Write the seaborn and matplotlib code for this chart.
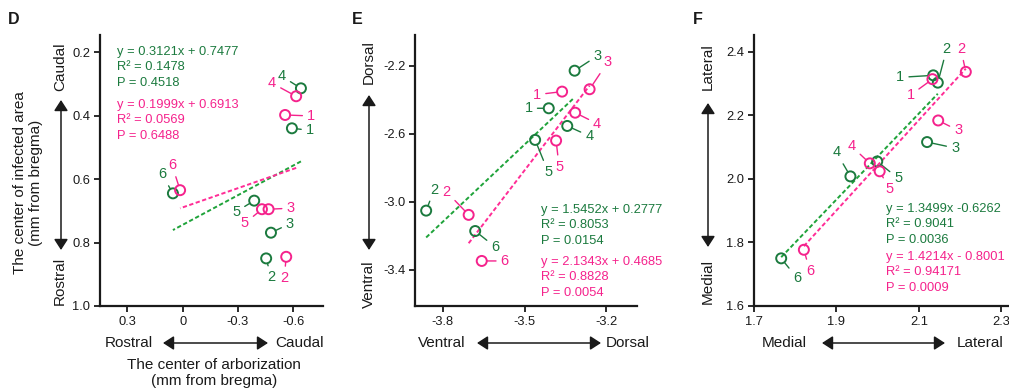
import numpy as np
import matplotlib
matplotlib.use('Agg')
import matplotlib.pyplot as plt
import seaborn as sns
from matplotlib.patches import FancyArrowPatch

# ---- data (point ids 1-6, green / magenta series) ----
ids = ['1', '2', '3', '4', '5', '6']

# D: rostro-caudal, arborization (x) vs infected area (y)
d_green_x = [-0.594, -0.454, -0.480, -0.643, -0.389, 0.053]
d_green_y = [0.440, 0.850, 0.769, 0.314, 0.668, 0.645]
d_pink_x = [-0.557, -0.563, -0.467, -0.617, -0.431, 0.014]
d_pink_y = [0.398, 0.845, 0.695, 0.339, 0.695, 0.635]
d_green_eq = ['y = 0.3121x + 0.7477', 'R² = 0.1478', 'P = 0.4518']
d_pink_eq = ['y = 0.1999x + 0.6913', 'R² = 0.0569', 'P = 0.6488']

# E: dorso-ventral
e_green_x = [-3.411, -3.861, -3.316, -3.343, -3.461, -3.681]
e_green_y = [-2.449, -3.051, -2.228, -2.553, -2.635, -3.171]
e_pink_x = [-3.362, -3.705, -3.261, -3.314, -3.384, -3.657]
e_pink_y = [-2.351, -3.076, -2.337, -2.475, -2.639, -3.347]
e_green_eq = ['y = 1.5452x + 0.2777', 'R² = 0.8053', 'P = 0.0154']
e_pink_eq = ['y = 2.1343x + 0.4685', 'R² = 0.8828', 'P = 0.0054']

# F: medio-lateral
f_green_x = [2.135, 2.146, 2.120, 1.934, 1.999, 1.766]
f_green_y = [2.326, 2.303, 2.116, 2.008, 2.055, 1.750]
f_pink_x = [2.133, 2.214, 2.147, 1.981, 2.005, 1.821]
f_pink_y = [2.314, 2.337, 2.184, 2.049, 2.024, 1.777]
f_green_eq = ['y = 1.3499x -0.6262', 'R² = 0.9041', 'P = 0.0036']
f_pink_eq = ['y = 1.4214x - 0.8001', 'R² = 0.94171', 'P = 0.0009']

# tick labels
d_xticks, d_xlabels = [0.3, 0, -0.3, -0.6], ['0.3', '0', '-0.3', '-0.6']
d_yticks, d_ylabels = [0.2, 0.4, 0.6, 0.8, 1.0], ['0.2', '0.4', '0.6', '0.8', '1.0']
e_xticks, e_xlabels = [-3.8, -3.5, -3.2], ['-3.8', '-3.5', '-3.2']
e_yticks, e_ylabels = [-2.2, -2.6, -3.0, -3.4], ['-2.2', '-2.6', '-3.0', '-3.4']
f_xticks, f_xlabels = [1.7, 1.9, 2.1, 2.3], ['1.7', '1.9', '2.1', '2.3']
f_yticks, f_ylabels = [1.6, 1.8, 2.0, 2.2, 2.4], ['1.6', '1.8', '2.0', '2.2', '2.4']

# label offsets (pixels, image direction: +x right, +y down)
d_green_off = [(18, 2), (5, 19), (19, -9), (-19, -12), (-18, 11), (-11, -19)]
d_pink_off = [(26, 1), (-2, 21), (22, -1), (-24, -13), (-17, 14), (-8, -25)]
e_green_off = [(-20, 0), (8, -21), (23, -15), (22, 10), (13, 32), (20, 16)]
e_pink_off = [(-25, 3), (-22, -23), (18, -27), (22, 11), (3, 26), (23, 0)]
f_green_off = [(-33, 2), (9, -34), (28, 6), (-14, -24), (21, 17), (16, 20)]
f_pink_off = [(-22, 16), (-5, -23), (20, 10), (-18, -17), (10, 18), (6, 21)]

GREEN, GREEN_LINE = '#1b7a3e', '#1fa33a'
PINK, PINK_LINE = '#f5228c', '#ff2d96'
INK = '#1a1a1a'

sns.set_style('ticks')
plt.rcParams['font.family'] = ['Liberation Sans', 'DejaVu Sans']
plt.rcParams['axes.unicode_minus'] = False

W, H = 1009, 392
fig = plt.figure(figsize=(W / 100, H / 100), dpi=100)


def fx(px):
    return px / W


def fy(py):
    return 1 - py / H


def add_ax(left, right, top, bottom):
    return fig.add_axes([fx(left), fy(bottom), (right - left) / W, (bottom - top) / H])


def draw_series(ax, x, y, offs, c, cline):
    x = np.array(x)
    y = np.array(y)
    sns.regplot(x=x, y=y, ax=ax, scatter=False, ci=None, truncate=True,
                line_kws=dict(color=cline, lw=1.4, ls=(0, (2.2, 1.3))))
    sns.scatterplot(x=x, y=y, ax=ax, color=c, facecolor='none', edgecolor=c,
                    s=52, linewidth=1.4, zorder=4)
    for lab, xi, yi, (dx, dy) in zip(ids, x, y, offs):
        ax.annotate(lab, (xi, yi), xytext=(dx, -dy), textcoords='offset pixels',
                    ha='center', va='center', fontsize=10.5, color=c,
                    arrowprops=dict(arrowstyle='-', color=c, lw=1.0,
                                    shrinkA=1.0, shrinkB=3.7))


def style_ax(ax, xlim, ylim, xt, xl, yt, yl):
    ax.set_xlim(*xlim)
    ax.set_ylim(*ylim)
    ax.set_xticks(xt, xl)
    ax.set_yticks(yt, yl)
    ax.set_xlabel('')
    ax.set_ylabel('')
    sns.despine(ax=ax)
    for s in ['left', 'bottom']:
        ax.spines[s].set_linewidth(1.6)
        ax.spines[s].set_color(INK)
    ax.tick_params(width=1.3, length=4, labelsize=9.3, pad=3,
                   color=INK, labelcolor=INK)


def eq_block(x, y, lines, c):
    for i, t in enumerate(lines):
        fig.text(fx(x), fy(y + i * 15.3), t, color=c, fontsize=9.3,
                 ha='left', va='center')


def double_arrow(x0, y0, x1, y1):
    fig.add_artist(FancyArrowPatch((fx(x0), fy(y0)), (fx(x1), fy(y1)),
                                   transform=fig.transFigure,
                                   arrowstyle='<|-|>,head_length=0.65,head_width=0.42',
                                   mutation_scale=10, lw=1.1, color=INK,
                                   shrinkA=0, shrinkB=0))


def side_text(x, y, t, rot=0):
    fig.text(fx(x), fy(y), t, rotation=rot, ha='center', va='center',
             fontsize=11, color=INK)


# ---- D ----
axd = add_ax(100, 323, 35, 306)
draw_series(axd, d_green_x, d_green_y, d_green_off, GREEN, GREEN_LINE)
draw_series(axd, d_pink_x, d_pink_y, d_pink_off, PINK, PINK_LINE)
style_ax(axd, (0.4495, -0.763), (1.0, 0.146), d_xticks, d_xlabels, d_yticks, d_ylabels)
eq_block(117, 52, d_green_eq, GREEN)
eq_block(117, 105, d_pink_eq, PINK)

# ---- E ----
axe = add_ax(415, 637, 35, 306)
draw_series(axe, e_green_x, e_green_y, e_green_off, GREEN, GREEN_LINE)
draw_series(axe, e_pink_x, e_pink_y, e_pink_off, PINK, PINK_LINE)
style_ax(axe, (-3.902, -3.087), (-3.612, -2.018), e_xticks, e_xlabels, e_yticks, e_ylabels)
eq_block(541, 210, e_green_eq, GREEN)
eq_block(541, 262, e_pink_eq, PINK)

# ---- F ----
axf = add_ax(754, 1009.5, 35, 306)
draw_series(axf, f_green_x, f_green_y, f_green_off, GREEN, GREEN_LINE)
draw_series(axf, f_pink_x, f_pink_y, f_pink_off, PINK, PINK_LINE)
style_ax(axf, (1.7, 2.32), (1.6, 2.453), f_xticks, f_xlabels, f_yticks, f_ylabels)
eq_block(886, 209, f_green_eq, GREEN)
eq_block(886, 257, f_pink_eq, PINK)

# panel letters
for px, letter in [(8, 'D'), (352, 'E'), (693, 'F')]:
    fig.text(fx(px), fy(20), letter, fontsize=11.5, fontweight='bold',
             ha='left', va='center', color=INK)

# direction arrows and labels
double_arrow(61, 100, 61, 250)
side_text(60, 67, 'Caudal', 90)
side_text(60, 281, 'Rostral', 90)
double_arrow(163, 343, 268, 343)
side_text(129, 343, 'Rostral')
side_text(299, 343, 'Caudal')
fig.text(fx(28), fy(183), 'The center of infected area\n(mm from bregma)',
         rotation=90, ha='center', va='center', fontsize=11, color=INK,
         multialignment='center', linespacing=1.25)
fig.text(fx(214), fy(373), 'The center of arborization\n(mm from bregma)',
         ha='center', va='center', fontsize=11, color=INK,
         multialignment='center', linespacing=1.25)

double_arrow(369, 95, 369, 250)
side_text(369, 62, 'Dorsal', 90)
side_text(369, 284, 'Ventral', 90)
double_arrow(477, 343, 601, 343)
side_text(442, 343, 'Ventral')
side_text(628, 343, 'Dorsal')

double_arrow(708, 103, 708, 247)
side_text(708, 67, 'Lateral', 90)
side_text(708, 282, 'Medial', 90)
double_arrow(822, 343, 945, 343)
side_text(784, 343, 'Medial')
side_text(980, 343, 'Lateral')

fig.savefig('out.png', dpi=100)
